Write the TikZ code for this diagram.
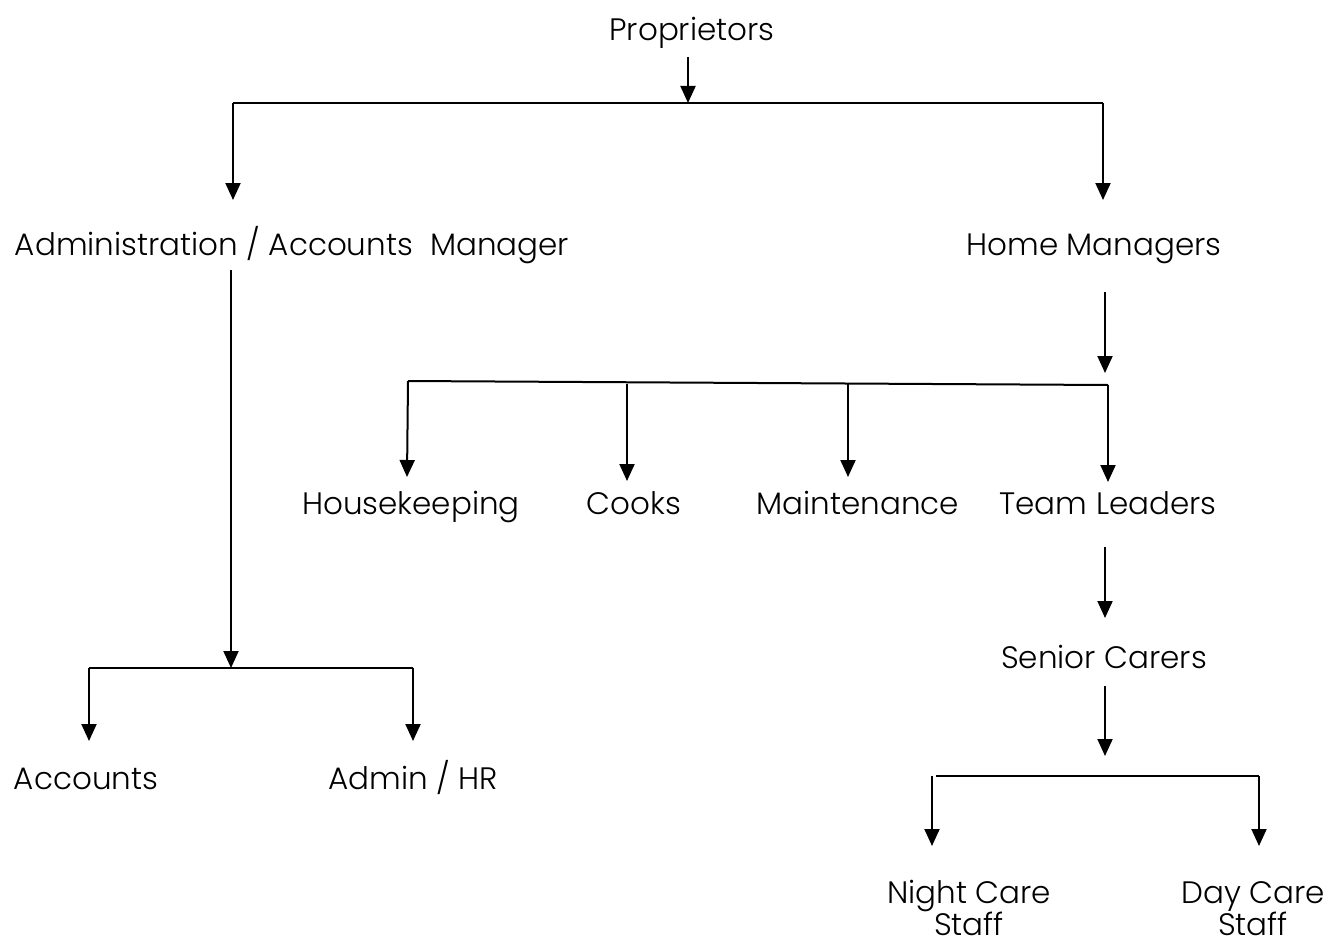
\documentclass[tikz,border=0pt]{standalone}
\usepackage{fontspec}
\setmainfont{Poppins}[UprightFont=* Light]
\usetikzlibrary{arrows.meta}
\begin{document}
\begin{tikzpicture}[x=1pt,y=-1pt,
  lbl/.style={inner sep=0pt,anchor=base,font=\fontsize{31}{33}\selectfont,align=center},
  ln/.style={line width=2pt},
  arr/.style={line width=2pt,-{Triangle[width=15pt,length=17pt]}}]
\useasboundingbox (0,0) rectangle (1330,947);
% nodes
\node[lbl] (prop) at (692,41) {Proprietors};
\node[lbl] (adm) at (292,255) {Administration / Accounts\ \ Manager};
\node[lbl] (home) at (1094,255) {Home Managers};
\node[lbl] (house) at (411,514) {Housekeeping};
\node[lbl] (cooks) at (634,514) {Cooks};
\node[lbl] (maint) at (858,514) {Maintenance};
\node[lbl] (team) at (1108,514) {Team Leaders};
\node[lbl] (senior) at (1104,668) {Senior Carers};
\node[lbl,font=\fontsize{31}{32}\selectfont] (night) at (969,935) {Night Care\\Staff};
\node[lbl,font=\fontsize{31}{32}\selectfont] (day) at (1253,935) {Day Care\\Staff};
\node[lbl] (acc) at (86,789) {Accounts};
\node[lbl] (hr) at (413,789) {Admin / HR};
% junction coordinates
\coordinate (j1) at (688,103);
\coordinate (j1l) at (233,103);
\coordinate (j1r) at (1103,103);
\coordinate (a1) at (233,200);
\coordinate (a2) at (1103,200);
\coordinate (hm0) at (1105,292);
\coordinate (hm1) at (1105,373);
\coordinate (j2l) at (408,381);
\coordinate (j2r) at (1108,385);
\coordinate (j2a) at (627,383.5);
\coordinate (j2b) at (848,383.5);
\coordinate (ad0) at (231,270);
\coordinate (ad1) at (231,668);
\coordinate (j3l) at (89,668);
\coordinate (j3r) at (413,668);
\coordinate (j4l) at (932,776);
\coordinate (j4r) at (1259,776);
% connectors
\draw[arr] (688,57) -- (j1);
\draw[ln] (j1l) -- (j1r);
\draw[arr] (j1l) -- (a1);
\draw[arr] (j1r) -- (a2);
\draw[arr] (hm0) -- (hm1);
\draw[ln] (j2l) -- (j2r);
\draw[arr] (j2l) -- (407,477);
\draw[arr] (j2a) -- (627,481);
\draw[arr] (j2b) -- (848,477);
\draw[arr] (j2r) -- (1108,482);
\draw[arr] (1105,547) -- (1105,618);
\draw[arr] (1105,686) -- (1105,756);
\draw[ln] (936,776) -- (j4r);
\draw[arr] (j4l) -- (932,846);
\draw[arr] (j4r) -- (1259,846);
\draw[arr] (ad0) -- (ad1);
\draw[ln] (j3l) -- (j3r);
\draw[arr] (j3l) -- (89,741);
\draw[arr] (j3r) -- (413,741);
\end{tikzpicture}
\end{document}
